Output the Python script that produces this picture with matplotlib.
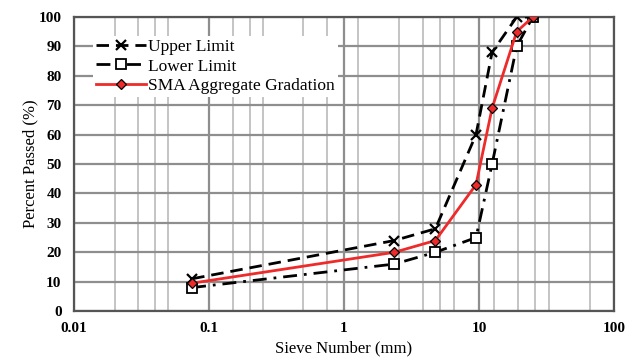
import matplotlib
matplotlib.use("Agg")
import matplotlib.pyplot as plt
from matplotlib.ticker import FixedLocator, FixedFormatter, NullFormatter

plt.rcParams['font.family'] = ['Liberation Serif', 'DejaVu Serif']

sieve = [0.075, 2.36, 4.75, 9.5, 12.5, 19, 25]
upper = [11, 24, 28, 60, 88, 100, 100]
lower = [8, 16, 20, 25, 50, 90, 100]
sma = [9.5, 20, 24, 43, 69, 95, 100]

x_ticks = [0.01, 0.1, 1, 10, 100]
x_tick_labels = ['0.01', '0.1', '1', '10', '100']
x_minor_grid = [0.02, 0.03, 0.04, 0.05,
                0.15, 0.2, 0.25, 0.5, 0.75,
                1.27, 2.55, 3.87, 5.14, 6.53,
                12.9, 19.5, 25.8, 33, 66]
y_ticks = list(range(0, 101, 10))

fig = plt.figure(figsize=(6.43, 3.63), dpi=100)
ax = fig.add_axes([0.1151, 0.143, 0.8398, 0.81])

ax.plot(sieve, upper, color='black', linestyle=(0, (4.5, 2.5)), linewidth=2.0,
        marker='x', markersize=7, markeredgewidth=1.6, label='Upper Limit', zorder=3)
ax.plot(sieve, lower, color='black', linestyle=(0, (5, 2.5, 1, 2.5)), linewidth=2.0,
        marker='s', markersize=7, markerfacecolor='white', markeredgecolor='black',
        markeredgewidth=1.3, label='Lower Limit', zorder=3)
ax.plot(sieve, sma, color='#ee2a2a', linestyle='-', linewidth=2.0,
        marker='D', markersize=5.5, markerfacecolor='#ee2a2a', markeredgecolor='black',
        markeredgewidth=0.9, label='SMA Aggregate Gradation', zorder=4)

ax.set_xscale('log')
ax.set_xlim(0.01, 100)
ax.set_ylim(0, 100)
ax.xaxis.set_major_locator(FixedLocator(x_ticks))
ax.xaxis.set_major_formatter(FixedFormatter(x_tick_labels))
ax.xaxis.set_minor_locator(FixedLocator(x_minor_grid))
ax.xaxis.set_minor_formatter(NullFormatter())
ax.set_yticks(y_ticks)

ax.grid(True, which='major', color='#8e8e8e', linewidth=1.6, zorder=0)
ax.grid(True, which='minor', axis='x', color='#c4c4c4', linewidth=1.4, zorder=0)
ax.set_axisbelow(True)

ax.tick_params(axis='x', which='major', length=0, labelsize=11, pad=8)
ax.tick_params(axis='x', which='minor', length=0)
ax.tick_params(axis='y', which='both', length=0, labelsize=11, pad=9)
for lab in ax.get_xticklabels() + ax.get_yticklabels():
    lab.set_fontweight('bold')
for s in ax.spines.values():
    s.set_color('#555555')
    s.set_linewidth(1.6)

ax.set_xlabel('Sieve Number (mm)', fontsize=12, labelpad=4)
ax.set_ylabel('Percent Passed (%)', fontsize=12, labelpad=0)

leg = ax.legend(loc='upper left', bbox_to_anchor=(0.035, 0.935), borderaxespad=0,
                frameon=True, fontsize=12.5, handlelength=2.9, borderpad=0.15,
                labelspacing=0.2, handletextpad=0.15)
leg.get_frame().set_facecolor('white')
leg.get_frame().set_edgecolor('none')
leg.get_frame().set_alpha(1)
leg.get_frame().set_boxstyle('square', pad=0)

fig.savefig('out.png', dpi=100)
